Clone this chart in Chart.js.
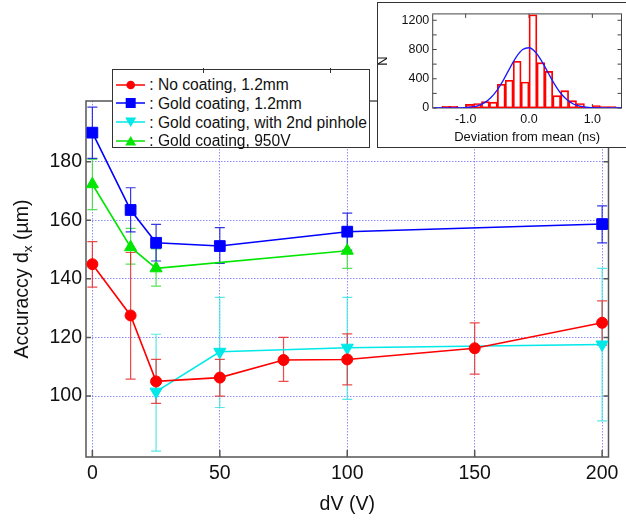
<!DOCTYPE html>
<html><head><meta charset="utf-8">
<script src="https://cdn.jsdelivr.net/npm/chart.js@4/dist/chart.umd.min.js"></script>
<style>
html,body{margin:0;padding:0;background:#fff;}
#wrap{position:relative;width:626px;height:521px;overflow:hidden;font-family:"Liberation Sans",Arial,sans-serif;background:#fff;}
#main{position:absolute;left:0;top:0;}
#legend{position:absolute;left:112px;top:69px;width:258px;height:79px;box-sizing:border-box;border:1px solid #333;background:#fff;}
#legend .row{position:absolute;left:0;height:18px;width:256px;}
#legend svg{position:absolute;left:0;top:0;}
#legend span{position:absolute;left:36.3px;top:0.5px;line-height:18px;font-size:15.6px;color:#111;white-space:nowrap;}
.ltick{position:absolute;width:1px;height:5px;background:#333;top:68px;}
#insetBox{position:absolute;left:377px;top:2px;width:252px;height:146px;box-sizing:border-box;border:1px solid #333;background:#fff;}
#inset{position:absolute;left:0;top:0;}
</style></head>
<body>
<div id="wrap">
<canvas id="main" width="626" height="521"></canvas>
<div id="legend"></div>
<div class="ltick" style="left:203px"></div>
<div class="ltick" style="left:330px"></div>
<div id="insetBox"><canvas id="inset" width="248" height="144"></canvas></div>
</div>
<script>
const FONT = '"Liberation Sans", Arial, sans-serif';

// ---------- main chart data ----------
const seriesNames = ['No coating, 1.2mm', 'Gold coating, 1.2mm', 'Gold coating, with 2nd pinhole', 'Gold coating, 950V'];
const redX  = [0, 15, 25, 50, 75, 100, 150, 200];
const redY  = [145, 127.5, 105, 106.3, 112.3, 112.5, 116.3, 125];
const redHi = [152.7, 149, 112.5, 112.5, 120, 121.2, 125, 132.5];
const redLo = [137.2, 105.8, 97.5, 100, 105, 103.8, 107.5, 117.4];
const blueX  = [0, 15, 25, 50, 100, 200];
const blueY  = [189.9, 163.5, 152.3, 151.2, 156.1, 158.7];
const blueHi = [198.6, 171.1, 158.6, 157.5, 162.4, 164.9];
const blueLo = [181.1, 156, 146.1, 145.3, 149.8, 152.3];
const cyanX  = [25, 50, 100, 200];
const cyanY  = [101.5, 115.1, 116.5, 117.6];
const cyanHi = [121.1, 133.7, 133.7, 143.6];
const cyanLo = [81.2, 96.1, 98.9, 91.5];
const greenX  = [0, 15, 25, 100];
const greenY  = [172.3, 150.8, 143.6, 149.6];
const greenHi = [180.8, 157.2, 150.2, 155.6];
const greenLo = [163.6, 145, 137.5, 143.6];
const xTicks = [0, 50, 100, 150, 200];
const yTicks = [100, 120, 140, 160, 180];

// ---------- inset data ----------
const histCenters = [-1.4375,-1.3125,-1.1875,-1.0625,-0.9375,-0.8125,-0.6875,-0.5625,-0.4375,-0.3125,-0.1875,-0.0625,
                     0.0625,0.1875,0.3125,0.4375,0.5625,0.6875,0.8125,0.9375,1.0625,1.1875,1.3125,1.4375];
const histCounts  = [5,22,22,5,50,62,88,80,325,380,640,355,1275,620,500,170,238,100,62,10,32,18,18,5];
const fitX = [-1.5,-1.2,-1.0,-0.9,-0.8,-0.7,-0.6,-0.5,-0.4,-0.3,-0.2,-0.1,0,0.1,0.2,0.3,0.4,0.5,0.6,0.7,0.8,0.9,1.0,1.2,1.5];
const fitY = [0,1,6,15,34,74,144,249,389,549,698,799,824,766,642,485,330,202,112,55,25,10,4,0,0];
const insetXTicks = [-1, 0, 1];
const insetYTicks = [0, 400, 800, 1200];
const insetYMinor = [200, 600, 1000];

// ---------- styles ----------
const series = [
  {name: seriesNames[0], x: redX, y: redY, hi: redHi, lo: redLo, color: '#ff0000', err: 'rgba(232,30,30,0.8)', style: 'circle', radius: 5.5, rot: 0, leg: 'circle'},
  {name: seriesNames[1], x: blueX, y: blueY, hi: blueHi, lo: blueLo, color: '#0000ff', err: 'rgba(20,20,225,0.85)', style: 'rect', radius: 7.6, rot: 0, leg: 'rect'},
  {name: seriesNames[2], x: cyanX, y: cyanY, hi: cyanHi, lo: cyanLo, color: '#00e8e8', err: 'rgba(60,228,228,0.85)', style: 'triangle', radius: 7, rot: 180, leg: 'down'},
  {name: seriesNames[3], x: greenX, y: greenY, hi: greenHi, lo: greenLo, color: '#00e600', err: 'rgba(60,218,60,0.85)', style: 'triangle', radius: 7, rot: 0, leg: 'up'}
];

// ---------- legend (HTML) ----------
const legendEl = document.getElementById('legend');
const rowCenters = [14.5, 33.2, 52.2, 70.5];
series.forEach((s, i) => {
  const row = document.createElement('div');
  row.className = 'row';
  row.style.top = (rowCenters[i] - 9) + 'px';
  let mk = '';
  if (s.leg === 'circle') mk = `<circle cx="17.7" cy="9" r="4.3" fill="${s.color}"/>`;
  else if (s.leg === 'rect') mk = `<rect x="12.7" y="4" width="10" height="10" fill="${s.color}"/>`;
  else if (s.leg === 'down') mk = `<polygon points="12.2,4.5 23.2,4.5 17.7,14" fill="${s.color}"/>`;
  else mk = `<polygon points="12.2,13.5 23.2,13.5 17.7,4" fill="${s.color}"/>`;
  row.innerHTML = `<svg width="36" height="18"><line x1="3" y1="9" x2="32" y2="9" stroke="${s.color}" stroke-width="1.5"/>${mk}</svg><span>: ${s.name}</span>`;
  legendEl.appendChild(row);
});

// ---------- main chart ----------
const mainDeco = {
  id: 'mainDeco',
  beforeDatasetsDraw(chart) {
    const {ctx, chartArea: a, scales: {x, y}} = chart;
    ctx.save();
    ctx.setLineDash([]);
    ctx.strokeStyle = '#555'; ctx.lineWidth = 1.5;
    ctx.strokeRect(a.left, a.top, a.right - a.left, a.bottom - a.top);
    ctx.beginPath();
    xTicks.forEach(v => { const px = x.getPixelForValue(v); ctx.moveTo(px, a.bottom); ctx.lineTo(px, a.bottom - 7); });
    yTicks.forEach(v => { const py = y.getPixelForValue(v);
      ctx.moveTo(a.left, py); ctx.lineTo(a.left + 5, py);
      ctx.moveTo(a.right, py); ctx.lineTo(a.right - 5, py); });
    ctx.stroke();
    for (let k = series.length - 1; k >= 0; k--) {
      const s = series[k];
      ctx.strokeStyle = s.err; ctx.lineWidth = 1.2;
      ctx.beginPath();
      s.x.forEach((xv, i) => {
        const px = x.getPixelForValue(xv), t = y.getPixelForValue(s.hi[i]), b = y.getPixelForValue(s.lo[i]);
        ctx.moveTo(px, t); ctx.lineTo(px, b);
        ctx.moveTo(px - 5, t); ctx.lineTo(px + 5, t);
        ctx.moveTo(px - 5, b); ctx.lineTo(px + 5, b);
      });
      ctx.stroke();
    }
    ctx.restore();
  },
  afterDraw(chart) {
    const ctx = chart.ctx;
    ctx.save();
    ctx.translate(20.5, 279);
    ctx.rotate(-Math.PI / 2);
    ctx.fillStyle = '#111';
    ctx.textBaseline = 'alphabetic';
    const f1 = '19.5px ' + FONT, f2 = '13.5px ' + FONT;
    ctx.font = f1; const w1 = ctx.measureText('Accuraccy d').width; const w3 = ctx.measureText(' (µm)').width;
    ctx.font = f2; const w2 = ctx.measureText('x').width;
    let sx = -(w1 + w2 + w3) / 2;
    ctx.font = f1; ctx.fillText('Accuraccy d', sx, 7); sx += w1;
    ctx.font = f2; ctx.fillText('x', sx, 11.5); sx += w2;
    ctx.font = f1; ctx.fillText(' (µm)', sx, 7);
    ctx.restore();
  }
};

new Chart(document.getElementById('main'), {
  type: 'line',
  data: {
    datasets: series.map(s => ({
      label: s.name,
      data: s.x.map((v, i) => ({x: v, y: s.y[i]})),
      borderColor: s.color, backgroundColor: s.color, borderWidth: 1.6,
      pointStyle: s.style, pointRadius: s.radius, pointRotation: s.rot,
      pointBackgroundColor: s.color, pointBorderColor: s.color, pointBorderWidth: 1,
      tension: 0
    }))
  },
  options: {
    responsive: false, animation: false, devicePixelRatio: 1,
    layout: {padding: {top: 101, right: 17.5, left: 0, bottom: 0}},
    plugins: {legend: {display: false}, tooltip: {enabled: false}},
    scales: {
      x: {
        type: 'linear', min: -2.5, max: 202.5,
        afterBuildTicks: a => { a.ticks = xTicks.map(v => ({value: v})); },
        afterFit: s => { s.height = 64; },
        grid: {color: 'rgba(105,105,255,0.75)', lineWidth: 1, drawTicks: false},
        border: {display: false, dash: [1.5, 1.5]},
        ticks: {color: '#111', font: {size: 19.5, family: FONT}, padding: 4.6, maxRotation: 0},
        title: {display: true, text: 'dV (V)', color: '#111', font: {size: 19.5, family: FONT}, padding: {top: 0, bottom: 4.3}}
      },
      y: {
        type: 'linear', min: 79.2, max: 200.7,
        afterBuildTicks: a => { a.ticks = yTicks.map(v => ({value: v})); },
        afterFit: s => { s.width = 86; },
        grid: {color: 'rgba(105,105,255,0.75)', lineWidth: 1, drawTicks: false},
        border: {display: false, dash: [1.5, 1.5]},
        ticks: {color: '#111', font: {size: 19.5, family: FONT}, padding: 4}
      }
    }
  },
  plugins: [mainDeco]
});

// ---------- inset chart ----------
const insetDeco = {
  id: 'insetDeco',
  beforeDatasetsDraw(chart) {
    const {ctx, chartArea: a, scales: {x, y}} = chart;
    ctx.save();
    ctx.strokeStyle = '#444'; ctx.lineWidth = 1;
    ctx.strokeRect(a.left, a.top, a.right - a.left, a.bottom - a.top);
    ctx.beginPath();
    insetXTicks.forEach(v => { const px = x.getPixelForValue(v);
      ctx.moveTo(px, a.bottom); ctx.lineTo(px, a.bottom - 4);
      ctx.moveTo(px, a.top); ctx.lineTo(px, a.top + 4); });
    insetYTicks.concat(insetYMinor).forEach(v => { const py = y.getPixelForValue(v);
      ctx.moveTo(a.left, py); ctx.lineTo(a.left + 4, py);
      ctx.moveTo(a.right, py); ctx.lineTo(a.right - 4, py); });
    ctx.stroke();
    ctx.restore();
  }
};

const histData = histCenters.map((c, i) => ({x: c, y: histCounts[i]}));
new Chart(document.getElementById('inset'), {
  type: 'line',
  data: {
    datasets: [
      {type: 'line', data: fitX.map((v, i) => ({x: v, y: fitY[i]})), borderColor: '#1a1aff', borderWidth: 1.3,
       pointRadius: 0, tension: 0.4, cubicInterpolationMode: 'monotone', order: 0},
      {type: 'bar', data: histData, borderColor: '#ff0000', borderWidth: 1, backgroundColor: 'rgba(0,0,0,0)',
       grouped: false, barPercentage: 1, categoryPercentage: 1, borderSkipped: false, order: 1},
      {type: 'bar', data: histData, borderColor: 'rgba(255,80,80,0.45)', borderWidth: 1.8, backgroundColor: 'rgba(0,0,0,0)',
       grouped: false, barPercentage: 1.04, categoryPercentage: 1, borderSkipped: false, order: 2}
    ]
  },
  options: {
    responsive: false, animation: false, devicePixelRatio: 1,
    layout: {padding: {top: 10.3, right: 4.5, left: 0, bottom: 0}},
    plugins: {legend: {display: false}, tooltip: {enabled: false}},
    scales: {
      x: {
        type: 'linear', min: -1.52, max: 1.46, offset: false,
        afterBuildTicks: a => { a.ticks = insetXTicks.map(v => ({value: v})); },
        afterFit: s => { s.height = 39; },
        grid: {display: false, drawTicks: false, offset: false},
        border: {display: false},
        ticks: {color: '#111', font: {size: 12.5, family: FONT}, padding: 3.7, maxRotation: 0, callback: v => v.toFixed(1)},
        title: {display: true, text: 'Deviation from mean (ns)', color: '#111', font: {size: 13, family: FONT}, padding: {top: 0, bottom: 1.4}}
      },
      y: {
        type: 'linear', min: 0, max: 1287,
        afterBuildTicks: a => { a.ticks = insetYTicks.map(v => ({value: v})); },
        afterFit: s => { s.width = 54.7; },
        grid: {display: false, drawTicks: false},
        border: {display: false},
        ticks: {color: '#111', font: {size: 12.5, family: FONT}, padding: 3.4, callback: v => String(v)},
        title: {display: true, text: 'N', color: '#111', font: {size: 13, family: FONT, lineHeight: 0.8}, padding: 0}
      }
    }
  },
  plugins: [insetDeco]
});
</script>
</body></html>
